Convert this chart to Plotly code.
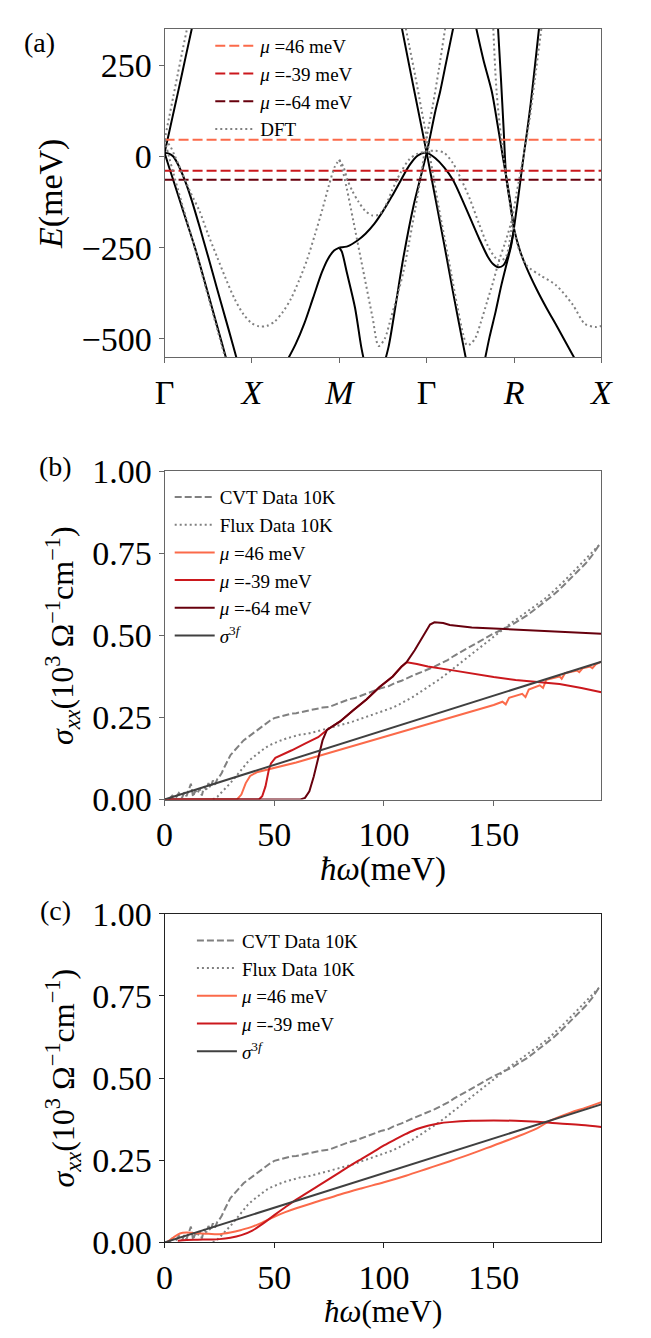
import plotly.graph_objects as go

W, H = 651, 1338
FONT = "Liberation Serif"

# ---------------- Panel (a): band structure ----------------
k_ticks = [0, 1, 2, 3, 4, 5]
k_labels = ["Γ", "<i>X</i>", "<i>M</i>", "Γ", "<i>R</i>", "<i>X</i>"]
E_ticks = [-500, -250, 0, 250]
E_labels = ["−500", "−250", "0", "250"]

mu_values = [46, -39, -64]
mu_names = ["<i>μ</i> =46 meV", "<i>μ</i> =-39 meV", "<i>μ</i> =-64 meV"]
mu_colors = ["#fb6a4a", "#cb181d", "#67000d"]

# model bands (black)
bA1_k = [0, 0.06, 0.12, 0.18, 0.24, 0.32]
bA1_E = [10, 75, 140, 205, 272, 360]
bA2_k = [0, 0.05, 0.1, 0.2, 0.35, 0.5, 0.66, 0.74]
bA2_E = [10, -28, -65, -140, -252, -378, -515, -585]
bA3_k = [0, 0.05, 0.1, 0.15, 0.23, 0.3, 0.4, 0.5, 0.6, 0.7, 0.78, 0.86]
bA3_E = [10, 8, 0, -20, -64, -112, -192, -276, -362, -447, -515, -585]
bB_k = [1.38, 1.5, 1.6, 1.7, 1.8, 1.87, 1.94, 2.0]
bB_E = [-570, -515, -458, -388, -318, -281, -258, -250]
bC_k = [2.0, 2.03, 2.085, 2.18, 2.25, 2.3]
bC_E = [-250, -262, -317, -415, -521, -580]
bB2_k = [2.0, 2.1, 2.2, 2.3, 2.4, 2.5, 2.6, 2.7, 2.8, 2.9, 3.0, 3.1, 3.2, 3.3,
         3.4, 3.5, 3.6, 3.7, 3.76, 3.82, 3.88, 3.94, 4.0]
bB2_E = [-250, -246, -232, -212, -185, -150, -110, -67, -25, 3, 10, -5, -30, -64,
         -115, -170, -225, -275, -295, -304, -298, -265, -200]
bG_k = [3.815, 3.85, 3.88, 3.91, 3.94, 3.97, 4.0]
bG_E = [360, 215, 80, -55, -105, -150, -200]
bF_k = [3.56, 3.65, 3.745, 3.81, 3.87, 3.95, 4.0, 4.07, 4.15, 4.26, 4.37, 4.5, 4.67, 4.72]
bF_E = [360, 265, 179, 90, 2, -113, -198, -260, -309, -365, -415, -470, -544, -565]
bH_k = [3.66, 3.72, 3.79, 3.855, 3.92, 3.966, 4.0, 4.06, 4.11, 4.15, 4.19, 4.24, 4.29]
bH_E = [-565, -495, -425, -353, -290, -246, -195, -90, 2, 70, 144, 250, 360]
bD_k = [2.71, 2.8, 2.9, 3.0, 3.1, 3.2, 3.3, 3.4, 3.47]
bD_E = [360, 250, 130, 10, -115, -240, -370, -495, -580]
bE_k = [2.5, 2.565, 2.65, 2.73, 2.85, 3.0, 3.1, 3.155, 3.22, 3.31]
bE_E = [-580, -521, -400, -282, -135, 10, 125, 179, 255, 360]

model_bands = [(bA1_k, bA1_E), (bA2_k, bA2_E), (bA3_k, bA3_E), (bB_k, bB_E),
               (bC_k, bC_E), (bB2_k, bB2_E), (bG_k, bG_E), (bF_k, bF_E),
               (bH_k, bH_E), (bD_k, bD_E), (bE_k, bE_E)]

# DFT bands (gray dotted)
dA_k = [0, 0.05, 0.1, 0.15, 0.2, 0.27]
dA_E = [45, 105, 165, 225, 285, 365]
dB_k = [0, 0.05, 0.1, 0.2, 0.35, 0.5, 0.65, 0.72]
dB_E = [45, 0, -45, -130, -255, -385, -515, -575]
dC_k = [0, 0.06, 0.12, 0.2, 0.3, 0.4, 0.5, 0.6, 0.7, 0.8, 0.9, 1.0, 1.08, 1.17,
        1.26, 1.35, 1.445, 1.54, 1.63, 1.72, 1.81, 1.88, 1.95, 2.0]
dC_E = [45, 30, 0, -45, -100, -150, -215, -275, -335, -390, -432, -458, -466, -465,
        -453, -428, -391, -340, -284, -215, -142, -80, -27, -9]
dD_k = [2.0, 2.05, 2.09, 2.15, 2.22, 2.3, 2.38, 2.45, 2.52, 2.6, 2.7, 2.8, 2.9, 3.0,
        3.1, 3.2, 3.3, 3.4, 3.5, 3.6, 3.7, 3.78, 3.84, 3.91, 3.98]
dD_E = [-9, -30, -62, -95, -124, -150, -162, -160, -140, -95, -45, -8, 8, 14,
        16, 10, -18, -65, -120, -185, -245, -276, -287, -273, -176]
dE_k = [2.75, 2.8, 2.87, 2.94, 3.0, 3.07, 3.14, 3.21, 3.28, 3.35, 3.42, 3.46, 3.5,
        3.56, 3.62, 3.69, 3.76, 3.83, 3.9, 3.97, 4.03, 4.1, 4.17, 4.24, 4.32]
dE_E = [365, 305, 220, 130, 53, -45, -142, -230, -320, -410, -490, -518, -515,
        -497, -455, -400, -345, -284, -235, -178, -100, -10, 89, 215, 365]
dF_k = [2.0, 2.04, 2.085, 2.16, 2.27, 2.38, 2.45, 2.52, 2.59, 2.66, 2.73, 2.8, 2.87,
        2.94, 3.0, 3.07, 3.14, 3.22]
dF_E = [-9, -40, -87, -176, -309, -441, -520, -500, -444, -385, -320, -235, -142,
        -45, 53, 140, 240, 365]
dG_k = [3.76, 3.8, 3.855, 3.93, 3.98, 4.05, 4.15, 4.3, 4.48, 4.67, 4.81, 4.93, 5.0]
dG_E = [365, 179, 46, -87, -176, -250, -300, -326, -353, -406, -459, -468, -465]

dft_bands = [(dA_k, dA_E), (dB_k, dB_E), (dC_k, dC_E), (dD_k, dD_E),
             (dE_k, dE_E), (dF_k, dF_E), (dG_k, dG_E)]

# ---------------- Panels (b), (c): optical conductivity ----------------
w_ticks = [0, 50, 100, 150]
s_ticks = [0, 0.25, 0.5, 0.75, 1.0]
s_labels = ["0.00", "0.25", "0.50", "0.75", "1.00"]

cvt_w = [2, 3.5, 5, 6.5, 8, 9, 10, 11, 12, 13, 14, 15, 16, 17, 18, 19, 20, 21, 22, 23,
         24, 25, 26, 27, 28, 29, 30, 32, 34, 36, 38, 40, 42, 44, 46, 48, 50, 52, 54,
         56, 58, 60, 63, 66, 69, 72, 75, 78, 81, 84, 87, 90, 93, 96, 99, 102, 105,
         108, 111, 114, 117, 120, 123, 126, 129, 132, 135, 138, 141, 144, 147, 150,
         153, 156, 159, 162, 165, 168, 171, 174, 177, 180, 183, 186, 189, 192, 195, 198]
cvt_s = [0.0, 0.012, 0.004, 0.02, 0.006, 0.022, 0.01, 0.03, 0.048, 0.008, 0.028, 0.018,
         0.034, 0.012, 0.04, 0.03, 0.05, 0.035, 0.058, 0.045, 0.062, 0.07, 0.08, 0.095,
         0.11, 0.125, 0.135, 0.15, 0.165, 0.18, 0.19, 0.2, 0.21, 0.222, 0.23, 0.24,
         0.248, 0.252, 0.255, 0.258, 0.262, 0.263, 0.268, 0.272, 0.276, 0.28, 0.282,
         0.29, 0.298, 0.305, 0.31, 0.318, 0.325, 0.332, 0.34, 0.345, 0.355, 0.362,
         0.372, 0.38, 0.388, 0.396, 0.405, 0.415, 0.425, 0.438, 0.45, 0.462, 0.472,
         0.483, 0.495, 0.506, 0.515, 0.525, 0.535, 0.548, 0.56, 0.575, 0.59, 0.605,
         0.622, 0.64, 0.66, 0.678, 0.698, 0.72, 0.745, 0.775]

flux_w = [22, 24, 26, 28, 30, 32, 34, 36, 38, 40, 42, 44, 46, 48, 50, 53, 56, 59, 62, 65,
          68, 71, 74, 77, 80, 83, 86, 89, 92, 95, 98, 101, 104, 107, 110, 113, 116, 119,
          122, 125, 128, 131, 134, 137, 140, 143, 146, 149, 152, 155, 158, 161, 164,
          167, 170, 173, 176, 179, 182, 185, 188, 191, 194, 197, 199]
flux_s = [0.0, 0.008, 0.022, 0.035, 0.05, 0.066, 0.083, 0.1, 0.115, 0.127, 0.138, 0.148,
          0.158, 0.166, 0.172, 0.18, 0.187, 0.193, 0.198, 0.2, 0.205, 0.21, 0.215, 0.22,
          0.226, 0.232, 0.238, 0.245, 0.252, 0.258, 0.265, 0.272, 0.28, 0.29, 0.3, 0.312,
          0.325, 0.338, 0.352, 0.365, 0.38, 0.396, 0.412, 0.428, 0.444, 0.46, 0.476,
          0.492, 0.508, 0.523, 0.538, 0.552, 0.566, 0.58, 0.595, 0.61, 0.627, 0.645,
          0.665, 0.685, 0.705, 0.725, 0.745, 0.768, 0.782]

s3f_w = [0, 199.1]
s3f_s = [0, 0.42]

# panel (b) theory curves
b46_w = [0, 33, 35, 37, 39, 42, 60, 80, 100, 120, 140, 150, 154, 155.5, 157, 163, 164.5,
         166, 171, 172.5, 174, 180, 181, 182.5, 188, 189, 190.5, 194, 195, 196.5, 199.1]
b46_s = [0, 0, 0.015, 0.05, 0.072, 0.083, 0.113, 0.152, 0.19, 0.228, 0.268, 0.288,
         0.298, 0.29, 0.31, 0.322, 0.312, 0.335, 0.348, 0.34, 0.365, 0.375, 0.368,
         0.385, 0.393, 0.388, 0.4, 0.405, 0.4, 0.412, 0.42]
b39_w = [0, 43, 44.5, 46, 47.5, 48.5, 50.5, 54, 58, 64, 70, 74, 80, 86, 92, 98, 104, 108,
         110.5, 115, 120, 130, 140, 150, 160, 170, 180, 190, 199.1]
b39_s = [0, 0, 0.01, 0.04, 0.09, 0.11, 0.127, 0.137, 0.15, 0.17, 0.19, 0.212, 0.238,
         0.272, 0.305, 0.343, 0.375, 0.405, 0.418, 0.413, 0.405, 0.395, 0.383, 0.373,
         0.364, 0.358, 0.352, 0.34, 0.327]
b64_w = [0, 62, 64, 66, 68, 70, 72, 74, 80, 86, 92, 98, 104, 108, 110.5, 114, 118, 121,
         123, 127, 130, 135, 140, 150, 160, 170, 180, 190, 199.1]
b64_s = [0, 0, 0.005, 0.025, 0.07, 0.13, 0.18, 0.212, 0.238, 0.272, 0.305, 0.343, 0.375,
         0.405, 0.42, 0.455, 0.5, 0.533, 0.54, 0.538, 0.532, 0.527, 0.524, 0.521, 0.518,
         0.515, 0.512, 0.509, 0.505]

# panel (c) theory curves
c46_w = [1, 4, 7, 10, 15, 20, 25, 30, 35, 40, 45, 50, 55, 60, 70, 80, 90, 100, 110, 120,
         130, 140, 150, 160, 170, 176, 185, 192, 199.1]
c46_s = [0, 0.015, 0.027, 0.03, 0.028, 0.026, 0.025, 0.03, 0.038, 0.048, 0.062, 0.078,
         0.092, 0.104, 0.125, 0.146, 0.165, 0.183, 0.203, 0.225, 0.247, 0.27, 0.295,
         0.32, 0.348, 0.371, 0.395, 0.41, 0.427]
c39_w = [6, 10, 15, 20, 25, 30, 35, 40, 45, 50, 55, 60, 70, 80, 85, 90, 95, 100, 105, 110,
         115, 120, 125, 130, 140, 150, 160, 170, 180, 190, 199.1]
c39_s = [0.005, 0.007, 0.008, 0.009, 0.01, 0.014, 0.022, 0.036, 0.058, 0.083, 0.107,
         0.13, 0.172, 0.214, 0.235, 0.255, 0.275, 0.295, 0.313, 0.33, 0.345, 0.355,
         0.362, 0.366, 0.37, 0.371, 0.37, 0.367, 0.362, 0.357, 0.351]

GRAY = "#808080"
S3F_COLOR = "#404040"


def py(px):
    return 1 - px / H


def pxx(px):
    return px / W


XDOM = [pxx(151.7), pxx(603.8)]
DOM_A = [py(340.7), py(2.7)]
DOM_B = [py(795.5), py(458)]
DOM_C = [py(1251), py(913)]

fig = go.Figure()

# ---- (a)
for kk, ee in model_bands:
    fig.add_trace(go.Scatter(x=kk, y=ee, mode="lines", xaxis="x", yaxis="y",
                             line=dict(color="black", width=2, shape="spline", smoothing=0.8),
                             showlegend=False, hoverinfo="skip"))
for mv, mn, mc in zip(mu_values, mu_names, mu_colors):
    fig.add_trace(go.Scatter(x=[k_ticks[0], k_ticks[-1]], y=[mv, mv], mode="lines",
                             xaxis="x", yaxis="y", name=mn, legend="legend",
                             line=dict(color=mc, width=2, dash="10px,4px")))
for i, (kk, ee) in enumerate(dft_bands):
    fig.add_trace(go.Scatter(x=kk, y=ee, mode="lines", xaxis="x", yaxis="y",
                             name="DFT", legend="legend", legendgroup="dft",
                             showlegend=(i == 0),
                             line=dict(color=GRAY, width=2, dash="2px,3px",
                                       shape="spline", smoothing=0.8)))


def add_cond(xa, ya, leg, curves):
    fig.add_trace(go.Scatter(x=cvt_w, y=cvt_s, mode="lines", xaxis=xa, yaxis=ya,
                             name="CVT Data 10K", legend=leg,
                             line=dict(color=GRAY, width=2, dash="7px,3px")))
    fig.add_trace(go.Scatter(x=flux_w, y=flux_s, mode="lines", xaxis=xa, yaxis=ya,
                             name="Flux Data 10K", legend=leg,
                             line=dict(color=GRAY, width=2, dash="2px,3px")))
    for (ww, ss, nm, col, shp) in curves:
        fig.add_trace(go.Scatter(x=ww, y=ss, mode="lines", xaxis=xa, yaxis=ya,
                                 name=nm, legend=leg,
                                 line=dict(color=col, width=2, shape=shp)))
    fig.add_trace(go.Scatter(x=s3f_w, y=s3f_s, mode="lines", xaxis=xa, yaxis=ya,
                             name="<i>σ</i><sup>3<i>f</i></sup>", legend=leg,
                             line=dict(color=S3F_COLOR, width=2)))


add_cond("x2", "y2", "legend2", [
    (b46_w, b46_s, mu_names[0], mu_colors[0], "linear"),
    (b39_w, b39_s, mu_names[1], mu_colors[1], "linear"),
    (b64_w, b64_s, mu_names[2], mu_colors[2], "linear"),
])
add_cond("x3", "y3", "legend3", [
    (c46_w, c46_s, mu_names[0], mu_colors[0], "spline"),
    (c39_w, c39_s, mu_names[1], mu_colors[1], "spline"),
])


def axis(frame, **kw):
    d = dict(showline=True, mirror=True, linecolor=frame, linewidth=1,
             ticks="outside", ticklen=5, tickwidth=1, tickcolor=frame,
             showgrid=False, zeroline=False,
             tickfont=dict(family=FONT, size=34, color="black"))
    d.update(kw)
    return d


FA = "#666666"
FC = "#222222"

leg_common = dict(font=dict(family=FONT, size=19, color="black"),
                  bgcolor="rgba(0,0,0,0)", borderwidth=0, xanchor="left",
                  yanchor="top", itemwidth=40, tracegroupgap=0)

fig.update_layout(
    width=W, height=H, margin=dict(l=0, r=0, t=0, b=0),
    paper_bgcolor="white", plot_bgcolor="white",
    font=dict(family=FONT, color="black"),
    xaxis=axis(FA, domain=XDOM, range=[0, 5], anchor="y",
               tickmode="array", tickvals=k_ticks, ticktext=k_labels),
    yaxis=axis(FA, domain=DOM_A, range=[-551, 351], anchor="x",
               tickmode="array", tickvals=E_ticks, ticktext=E_labels),
    xaxis2=axis(FA, domain=XDOM, range=[0, 199.1], anchor="y2",
                tickmode="array", tickvals=w_ticks),
    yaxis2=axis(FA, domain=DOM_B, range=[0, 1], anchor="x2",
                tickmode="array", tickvals=s_ticks, ticktext=s_labels),
    xaxis3=axis(FC, domain=XDOM, range=[0, 199.1], anchor="y3",
                tickmode="array", tickvals=w_ticks),
    yaxis3=axis(FC, domain=DOM_C, range=[0, 1], anchor="x3",
                tickmode="array", tickvals=s_ticks, ticktext=s_labels),
    legend=dict(x=pxx(199), y=py(1), **leg_common),
    legend2=dict(x=pxx(157), y=py(465), **leg_common),
    legend3=dict(x=pxx(180), y=py(921), **leg_common),
)

ann = [
    ("(a)", 22, 17, 0, 28),
    ("(b)", 39, 453, 0, 28),
    ("(c)", 39, 910, 0, 28),
    ("<i>E</i>(meV)", 34, 172, -90, 34),
    ("<i>σ</i><sub><i>xx</i></sub>(10<sup>3</sup> Ω<sup>−1</sup>cm<sup>−1</sup>)", 46, 627, -90, 32),
    ("<i>σ</i><sub><i>xx</i></sub>(10<sup>3</sup> Ω<sup>−1</sup>cm<sup>−1</sup>)", 46, 1082, -90, 32),
    ("<i>ħω</i>(meV)", 378, 868, 0, 33),
    ("<i>ħω</i>(meV)", 378, 1322, 0, 31),
]
for txt, x0, y0, ang, sz in ann:
    fig.add_annotation(text=txt, x=pxx(x0), y=py(y0), xref="paper", yref="paper",
                       showarrow=False, xanchor="center", yanchor="middle",
                       textangle=ang, font=dict(family=FONT, size=sz, color="black"))

fig.write_html("out.html")
